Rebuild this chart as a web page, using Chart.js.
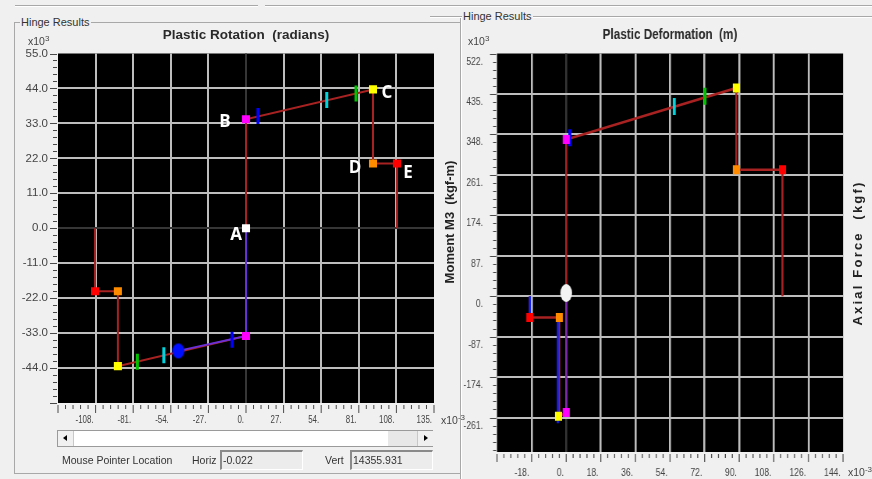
<!DOCTYPE html>
<html>
<head>
<meta charset="utf-8">
<title>Hinge Results</title>
<script src="https://cdn.jsdelivr.net/npm/chart.js@4.4.1/dist/chart.umd.min.js"></script>
<style>
  html, body { margin: 0; padding: 0; }
  body {
    width: 872px; height: 479px; overflow: hidden; position: relative;
    background: #f0f0f0; color: #333;
    font-family: 'Liberation Sans', Arial, sans-serif;
  }
  .abs { position: absolute; }
  .line-h { position: absolute; height: 0; border-top: 1px solid #a8a8a8; border-bottom: 1px solid #fff; }
  .line-v { position: absolute; width: 0; border-left: 1px solid #a8a8a8; border-right: 1px solid #fff; }
  .legend { position: absolute; font-size: 11px; line-height: 12px; background: #f0f0f0; padding: 0 2px 0 1px; color: #333; }
  .mult { position: absolute; font-size: 10.5px; color: #444; white-space: nowrap; }
  .mult sup { font-size: 8px; vertical-align: 4px; line-height: 0; }
  .axis-title { position: absolute; white-space: nowrap; font-weight: bold; color: #222;
    transform: translate(-50%, -50%) rotate(-90deg); }
  .status { position: absolute; font-size: 10.5px; color: #333; white-space: nowrap; }
  .field { position: absolute; height: 20px; width: 83px; box-sizing: border-box;
    border-top: 2px solid #8a8a8a; border-left: 2px solid #8a8a8a; border-right: 1px solid #fff; border-bottom: 1px solid #fff;
    background: #ececec; font-size: 10.5px; line-height: 17px; padding-left: 1px; color: #333; }
  #scroll { position: absolute; left: 57px; top: 430px; width: 376px; height: 17px; box-sizing: border-box;
    border: 1px solid #9a9a9a; background: #fff; }
  #scroll .btn { position: absolute; top: 0; width: 15px; height: 15px; background: #f0f0f0; }
  #scroll .tri-l { position: absolute; left: 5px; top: 4px; width: 0; height: 0;
    border-top: 3px solid transparent; border-bottom: 3px solid transparent; border-right: 4px solid #000; }
  #scroll .tri-r { position: absolute; left: 6px; top: 4px; width: 0; height: 0;
    border-top: 3px solid transparent; border-bottom: 3px solid transparent; border-left: 4px solid #000; }
  #rightWrap { position: absolute; left: 463px; top: 0; width: 525px; height: 479px;
    transform: scaleX(0.78); transform-origin: 0 0; }
  canvas { position: absolute; }
</style>
</head>
<body>

<div class="line-h" style="left:15px; top:5px; width:243px;"></div>
<div class="line-h" style="left:265px; top:5px; width:607px;"></div>

<!-- left group box -->
<div class="abs" style="left:14px; top:22px; width:446px; height:452px; border:1px solid #a8a8a8; border-right:none; box-sizing:border-box;"></div>
<div class="legend" style="left:20px; top:16px;">Hinge Results</div>
<!-- right group box -->
<div class="line-v" style="left:460px; top:16px; height:463px;"></div>
<div class="line-h" style="left:430px; top:16px; width:442px;"></div>
<div class="legend" style="left:462px; top:10px;">Hinge Results</div>

<canvas id="rotChart" style="left:0; top:27px;"></canvas>
<div id="rightWrap"><canvas id="defChart" style="left:0; top:26px;"></canvas></div>

<div class="mult" style="left:28px; top:35px;">x10<sup>3</sup></div>
<div class="mult" style="left:441px; top:414px;">x10<sup>-3</sup></div>
<div class="mult" style="left:468px; top:35px;">x10<sup>3</sup></div>
<div class="mult" style="left:848px; top:466px;">x10<sup>-3</sup></div>

<div class="axis-title" style="left:449px; top:222px; font-size:13px;">Moment M3&nbsp;&nbsp;(kgf-m)</div>
<div class="axis-title" style="left:857px; top:253px; font-size:13px; letter-spacing:2.2px;">Axial Force&nbsp;&nbsp;(kgf)</div>

<div id="scroll">
  <div class="btn" style="left:0; border-right:1px solid #c8c8c8;"><div class="tri-l"></div></div>
  <div class="abs" style="left:330px; top:0; width:29px; height:15px; background:#e8e8e8;"></div>
  <div class="btn" style="left:359px; border-left:1px solid #c8c8c8;"><div class="tri-r"></div></div>
</div>

<div class="status" style="left:62px; top:454px;">Mouse Pointer Location</div>
<div class="status" style="left:192px; top:454px;">Horiz</div>
<div class="field" style="left:220px; top:450px;">-0.022</div>
<div class="status" style="left:325px; top:454px;">Vert</div>
<div class="field" style="left:350px; top:450px;">14355.931</div>

<script>
// Plastic Rotation: x in 1e-3 rad, y in 1e3 kgf-m
const rotXMin = -135, rotXMax = 135, rotXStep = 5.4, rotXMajor = 27;
const rotYMin = -55, rotYMax = 55, rotYStep = 2.2, rotYMajor = 11;
const rotCurveX = [-108.4, -108.4, -92, -92, 0, 0, 0, 91.2, 91.2, 108.4, 108.4];
const rotCurveY = [0, -19.8, -19.8, -43.4, -33.9, 0, 34.3, 43.7, 20.4, 20.4, 0];
const rotPathX = [0, 0, -48.6];
const rotPathY = [0, -33.9, -38.6];
const rotPointX = [0, 0, 91.2, 91.2, 108.4, 0, -92, -92, -108.4];
const rotPointY = [0, 34.3, 43.7, 20.4, 20.4, -33.9, -43.4, -19.8, -19.8];
const rotPointNames = ['A', 'B', 'C', 'D', 'E', '', '', '', ''];
const rotLimitX = [8.6, 58, 79, -10, -59, -78];
const rotLimitY = [35.3, 40.4, 42.4, -35.1, -40.0, -42.0];
const rotStateX = [-48.6];
const rotStateY = [-38.6];

// Plastic Deformation: x in 1e-3 m, y in 1e3 kgf-m
const defXMin = -36, defXMax = 144, defXStep = 3.6, defXMajor = 18;
const defYMin = -335, defYMax = 522, defYStep = 17.4, defYMajor = 87;
const defCurveX = [-18.9, -18.9, -3.6, -3.6, 0, 0, 88.5, 88.5, 112.5, 112.5];
const defCurveY = [0, -45.8, -45.8, -258, -250, 337, 448, 272, 272, 0];
const defPathX = [-18.9, -18.9, null, -4.4, -4.4];
const defPathY = [0, -45.8, null, -45.8, -273];
const defDropX = [0, 0];
const defDropY = [7, -250];
const defPointX = [0, 88.5, 88.5, 112.5, -3.6, -18.9, -4, 0];
const defPointY = [337, 448, 272, 272, -45.8, -45.8, -258, -250];
const defLimitX = [1.9, 56.2, 72.2];
const defLimitY = [341, 408, 430];
const defStateX = [0];
const defStateY = [7];

const rotPointColors = ['#ffffff', '#ff00ff', '#ffff00', '#ff8c00', '#ff0000', '#ff00ff', '#ffff00', '#ff8c00', '#ff0000'];
const defPointColors = ['#ff00ff', '#ffff00', '#ff8c00', '#ff0000', '#ff8c00', '#ff0000', '#ffff00', '#ff00ff'];
const limitColors = ['#0000ff', '#00d4dc', '#00c000', '#0000ff', '#00d4dc', '#00c000'];

const RIGHT_SCALE = 0.78;
const GRID = '#bdbdbd';
const GRID_ZERO = '#363636';
const NONE = 'rgba(0,0,0,0)';
const LABEL_OFFSETS = { A: [-10, 7], B: [-21, 3], C: [14, 4], D: [-18, 5], E: [11, 10] };

Chart.defaults.font.family = "'Liberation Sans', Arial, sans-serif";
Chart.defaults.color = '#444';

function pts(xs, ys) {
  return xs.map((x, i) => ({ x: x, y: ys[i] }));
}

function isMajor(v, major) {
  return Math.abs(v / major - Math.round(v / major)) < 1e-6;
}

function ellipseStyle(w, h, color) {
  const c = document.createElement('canvas');
  c.width = w + 2;
  c.height = h + 2;
  const g = c.getContext('2d');
  g.fillStyle = color;
  g.beginPath();
  g.ellipse(c.width / 2, c.height / 2, w / 2, h / 2, 0, 0, Math.PI * 2);
  g.fill();
  return c;
}

function gridColor(min, max, major, zeroDim) {
  return (ctx) => {
    const v = ctx.tick.value;
    if (Math.abs(v - min) < 1e-6 || Math.abs(v - max) < 1e-6) return NONE;
    if (!isMajor(v, major)) return NONE;
    if (Math.abs(v) < 1e-6 && zeroDim) return GRID_ZERO;
    return GRID;
  };
}

const plotBackground = {
  id: 'plotBackground',
  beforeDraw(chart) {
    const { ctx, chartArea: a } = chart;
    ctx.save();
    ctx.fillStyle = '#000';
    ctx.fillRect(a.left, a.top, a.width, a.height);
    ctx.restore();
  }
};

// minor / major tick marks outside the plot, plus optional squeezed x labels
const axisTicks = {
  id: 'axisTicks',
  afterDraw(chart, args, opts) {
    const { ctx, chartArea: a } = chart;
    const xs = chart.scales.x, ys = chart.scales.y;
    ctx.save();
    ctx.strokeStyle = '#4a4a4a';
    ctx.lineWidth = opts.xWidth;
    xs.ticks.forEach(t => {
      const p = xs.getPixelForValue(t.value);
      const len = isMajor(t.value, opts.xMajor) ? 10 : 6;
      ctx.beginPath();
      ctx.moveTo(p, a.bottom + 2);
      ctx.lineTo(p, a.bottom + len);
      ctx.stroke();
    });
    ctx.lineWidth = 1;
    ys.ticks.forEach(t => {
      const p = Math.round(ys.getPixelForValue(t.value)) + 0.5;
      const len = isMajor(t.value, opts.yMajor) ? opts.yLen[0] : opts.yLen[1];
      ctx.beginPath();
      ctx.moveTo(a.left - len, p);
      ctx.lineTo(a.left - 1, p);
      ctx.stroke();
    });
    if (opts.xLabels) {
      ctx.fillStyle = '#444';
      ctx.font = "11px 'Liberation Sans', Arial, sans-serif";
      ctx.textAlign = 'right';
      ctx.textBaseline = 'middle';
      xs.ticks.forEach(t => {
        if (!isMajor(t.value, opts.xMajor) || Math.abs(t.value - xs.min) < 1e-6) return;
        ctx.save();
        ctx.translate(xs.getPixelForValue(t.value) - 2, a.bottom + 17);
        ctx.scale(0.72, 1);
        ctx.fillText(Math.round(t.value) + '.', 0, 0);
        ctx.restore();
      });
    }
    ctx.restore();
  }
};

const pointNames = {
  id: 'pointNames',
  afterDatasetsDraw(chart) {
    const { ctx, scales: { x, y } } = chart;
    ctx.save();
    ctx.fillStyle = '#ffffff';
    ctx.font = "bold 17px 'Open Sans', sans-serif";
    ctx.textAlign = 'center';
    ctx.textBaseline = 'middle';
    rotPointNames.forEach((n, i) => {
      if (!n) return;
      const o = LABEL_OFFSETS[n];
      ctx.fillText(n, x.getPixelForValue(rotPointX[i]) + o[0], y.getPixelForValue(rotPointY[i]) + o[1]);
    });
    ctx.restore();
  }
};

function makeChart(canvas, w, h, cfg) {
  canvas.width = w;
  canvas.height = h;
  return new Chart(canvas.getContext('2d'), cfg);
}

// ---- left chart: Plastic Rotation ----
makeChart(document.getElementById('rotChart'), 460, 406, {
  type: 'scatter',
  data: {
    datasets: [
      { data: pts(rotPointX, rotPointY), pointStyle: 'rect', pointRadius: 5.7,
        pointBackgroundColor: rotPointColors, pointBorderWidth: 0 },
      { data: pts(rotStateX, rotStateY), pointStyle: ellipseStyle(12, 15, '#0010ff'), pointRadius: 8 },
      { data: pts(rotLimitX, rotLimitY), pointStyle: 'line', pointRotation: 90, pointRadius: 8,
        pointBorderWidth: 3, pointBorderColor: limitColors },
      { data: pts(rotPathX, rotPathY), showLine: true, borderColor: '#6a30d8', borderWidth: 2, pointRadius: 0 },
      { data: pts(rotCurveX, rotCurveY), showLine: true, borderColor: '#a82222', borderWidth: 2, pointRadius: 0 }
    ]
  },
  options: {
    responsive: false,
    animation: false,
    layout: { padding: { left: 0, right: 26, top: 0, bottom: 0 } },
    plugins: {
      legend: { display: false },
      tooltip: { enabled: false },
      title: {
        display: true, fullSize: false, text: 'Plastic Rotation  (radians)', color: '#2a2a2a',
        font: { size: 13.5, weight: 'bold' }, padding: { top: 0, bottom: 10.3 }
      },
      axisTicks: { xMajor: rotXMajor, yMajor: rotYMajor, xWidth: 1, yLen: [8, 5], xLabels: true }
    },
    scales: {
      x: {
        type: 'linear', min: rotXMin, max: rotXMax,
        ticks: { stepSize: rotXStep, display: false, autoSkip: false, maxRotation: 0 },
        grid: { color: gridColor(rotXMin, rotXMax, rotXMajor, true), lineWidth: 2, drawTicks: false },
        border: { display: false },
        afterFit: (s) => { s.height = 30; }
      },
      y: {
        type: 'linear', min: rotYMin, max: rotYMax,
        ticks: {
          stepSize: rotYStep, padding: 10, font: { size: 11.5 }, color: '#444', autoSkip: false,
          callback: (v) => (isMajor(v, rotYMajor) && v > rotYMin + 1e-6) ? (Math.round(v * 10) / 10).toFixed(1) : ''
        },
        grid: { color: gridColor(rotYMin, rotYMax, rotYMajor, true), lineWidth: 2, drawTicks: false },
        border: { display: false },
        afterFit: (s) => { s.width = 58; }
      }
    }
  },
  plugins: [plotBackground, axisTicks, pointNames]
});

// ---- right chart: Plastic Deformation (drawn wider, squeezed by #rightWrap) ----
const defW = 525;
makeChart(document.getElementById('defChart'), defW, 453, {
  type: 'scatter',
  data: {
    datasets: [
      { data: pts(defPointX, defPointY), pointStyle: 'rect', pointRadius: 6.4,
        pointBackgroundColor: defPointColors, pointBorderWidth: 0 },
      { data: pts(defStateX, defStateY), pointStyle: ellipseStyle(15, 18, '#f4f4f4'), pointRadius: 9 },
      { data: pts(defLimitX, defLimitY), pointStyle: 'line', pointRotation: 90, pointRadius: 8.5,
        pointBorderWidth: 3.8, pointBorderColor: limitColors },
      { data: pts(defDropX, defDropY), showLine: true, borderColor: '#7a2ab0', borderWidth: 2.6, pointRadius: 0 },
      { data: pts(defPathX, defPathY), showLine: true, borderColor: '#1020ff', borderWidth: 2.6, pointRadius: 0 },
      { data: pts(defCurveX, defCurveY), showLine: true, borderColor: '#a82222', borderWidth: 2.6, pointRadius: 0 }
    ]
  },
  options: {
    responsive: false,
    animation: false,
    layout: { padding: { left: 0, right: defW - (843 - 463) / RIGHT_SCALE, top: 0, bottom: 0 } },
    plugins: {
      legend: { display: false },
      tooltip: { enabled: false },
      title: {
        display: true, fullSize: false, text: 'Plastic Deformation  (m)', color: '#2a2a2a',
        font: { size: 15, weight: 'bold' }, padding: { top: 0, bottom: 9.5 }
      },
      axisTicks: { xMajor: defXMajor, yMajor: defYMajor, xWidth: 1.3, yLen: [9, 5], xLabels: false }
    },
    scales: {
      x: {
        type: 'linear', min: defXMin, max: defXMax,
        ticks: {
          stepSize: defXStep, padding: 14, align: 'end', labelOffset: -3, font: { size: 11 }, color: '#444',
          autoSkip: false, maxRotation: 0, minRotation: 0,
          callback: (v) => (isMajor(v, defXMajor) && v > defXMin + 1e-6) ? Math.round(v) + '.' : ''
        },
        grid: { color: gridColor(defXMin, defXMax, defXMajor, true), lineWidth: 2.6, drawTicks: false },
        border: { display: false },
        afterFit: (s) => { s.height = 27; }
      },
      y: {
        type: 'linear', min: defYMin, max: defYMax,
        ticks: {
          stepSize: defYStep, padding: 18, labelOffset: 8, includeBounds: false, font: { size: 11 }, color: '#444',
          autoSkip: false,
          callback: (v) => isMajor(v, defYMajor) ? Math.round(v) + '.' : ''
        },
        grid: { color: gridColor(defYMin, defYMax, defYMajor, false), lineWidth: 2, drawTicks: false },
        border: { display: false },
        afterFit: (s) => { s.width = 34 / RIGHT_SCALE; }
      }
    }
  },
  plugins: [plotBackground, axisTicks]
});
</script>
</body>
</html>
